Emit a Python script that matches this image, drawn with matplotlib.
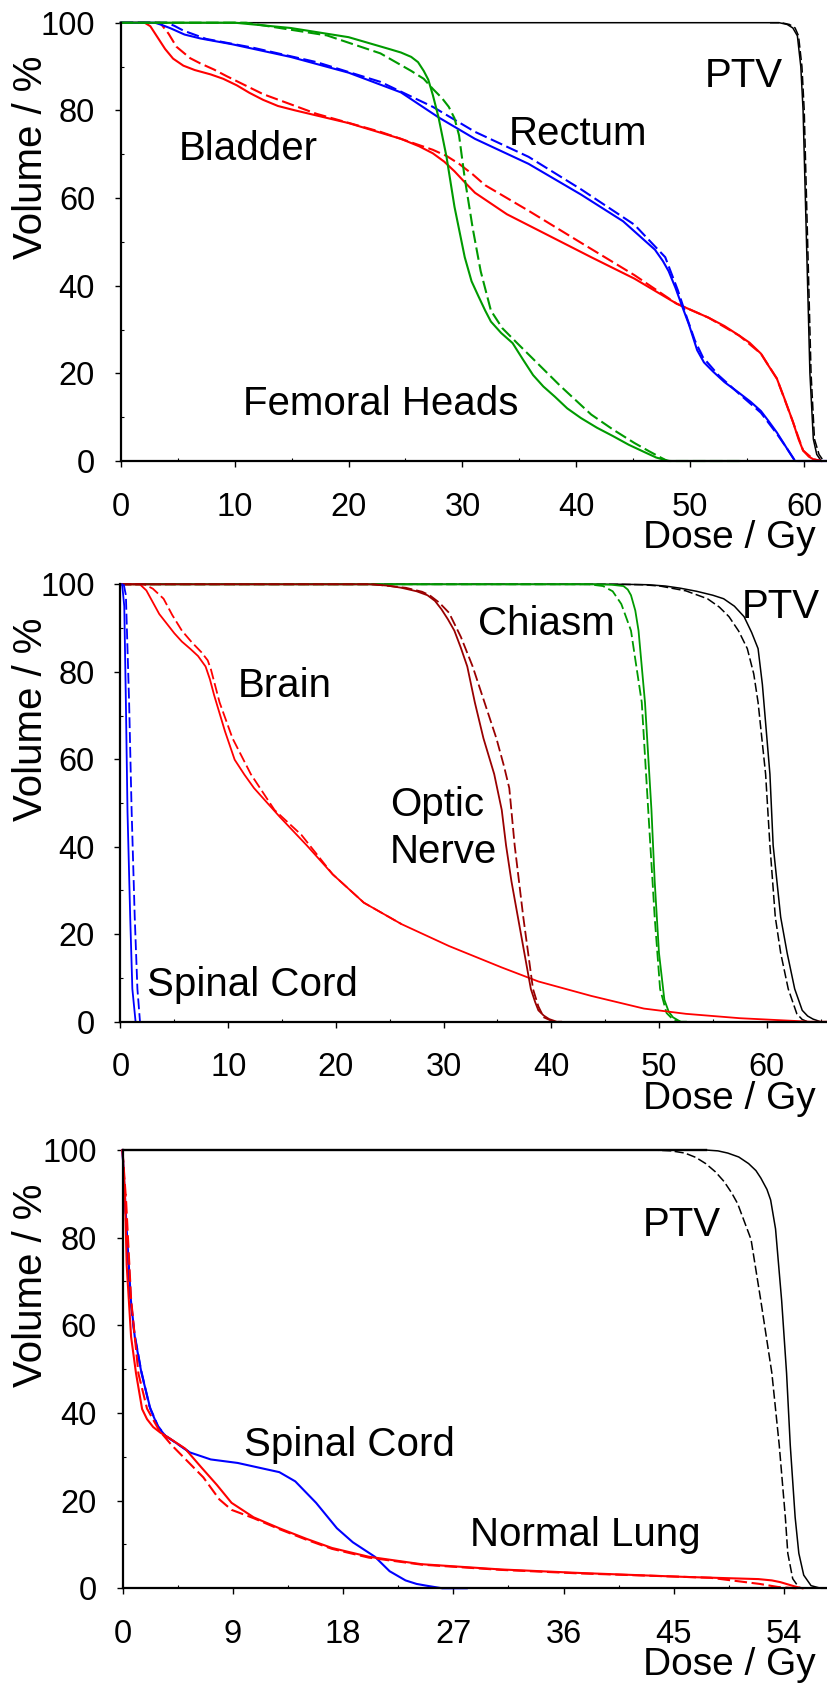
import matplotlib
matplotlib.use("Agg")
import matplotlib.pyplot as plt
from matplotlib.ticker import MultipleLocator

plt.rcParams['font.family'] = ['Liberation Sans', 'DejaVu Sans']

# ---------------- Panel 1 (prostate) ----------------
p1_ptv_d = [0, 57.8, 58.5, 59.0, 59.4, 59.7, 59.9, 60.2, 60.5, 60.8, 61.1, 61.5, 62.0]
p1_ptv_v = [100, 100, 99.6, 98.8, 97, 90, 80, 50, 20, 5, 1.5, 0, 0]
p1_ptv_dd = [57.0, 58.0, 58.7, 59.2, 59.5, 59.8, 60.0, 60.3, 60.6, 60.9, 61.3, 61.7, 62.0]
p1_ptv_dv = [100, 100, 99.6, 98.8, 97, 90, 80, 50, 20, 5, 1.5, 0, 0]

p1_rect_d = [0, 3.0, 3.6, 4.4, 5.6, 7.0, 9.75, 14.9, 20, 24.6, 27.9, 31.1, 35.8, 40.4, 44.1, 46.9,
             47.6, 48.1, 48.7, 49.2, 49.9, 50.6, 51.2, 52, 53, 54.3, 55.3, 56.2, 56.9, 57.6, 58.4,
             59.2, 62]
p1_rect_v = [100, 100, 99.5, 98.7, 97.3, 96.4, 95.1, 92.2, 88.6, 84.1, 78.4, 73.5, 67.8, 60.8, 54.7,
             48.2, 45.6, 43.3, 39.5, 35.9, 31, 25.3, 22.5, 20.4, 18, 15.5, 13.5, 11.4, 9, 6.5, 3.2,
             0, 0]
p1_rect_dd = [0, 4.0, 4.7, 5.5, 7.5, 11.6, 17.2, 22.8, 27.4, 31.1, 35.8, 40.4, 45.1, 47.8, 48.9,
              49.7, 50.4, 51.1, 52.5, 54.3, 56.2, 57.6, 58.4, 59.2, 62]
p1_rect_dv = [100, 100, 99.3, 98.2, 96.3, 94.3, 91, 86.5, 80.8, 75.1, 69.4, 62, 53.9, 46.5, 39,
              32.7, 27.5, 23.7, 19.5, 15.3, 11, 6.2, 3.2, 0, 0]

p1_blad_d = [0, 2.1, 2.6, 3.2, 3.9, 4.6, 5.5, 6.5, 7.9, 9.0, 10.2, 11.3, 12.5, 13.8, 15.3, 20, 24.6,
             26.2, 27.4, 28.4, 29.3, 30.2, 31.1, 33.9, 37.6, 41.3, 45.1, 48.8, 51.6, 53.0, 54.3, 55.2,
             56.2, 56.8, 57.6, 58.3, 59.0, 59.5, 59.9, 60.4, 60.8, 61.5]
p1_blad_v = [100, 100, 99.2, 96.8, 94.0, 91.8, 90.2, 89.2, 88.2, 87.2, 85.7, 84.0, 82.4, 81.0, 80,
             77.1, 73.5, 71.8, 70.2, 68.3, 66.1, 63.6, 61.2, 56.3, 51.4, 46.5, 41.6, 35.9, 32.7,
             30.8, 28.6, 27.0, 24.5, 22.0, 18.8, 14.0, 9.0, 5.0, 2.4, 1.0, 0.4, 0]
p1_blad_dd = [0, 3.45, 4.2, 4.9, 6.1, 7.0, 8.2, 9.3, 12.5, 17.2, 22.8, 27.4, 28.6, 29.7, 30.9, 32,
              35.8, 40.4, 45.1, 48.8, 51.6, 54.3, 56.2, 57.6, 59, 59.9, 60.8, 61.5]
p1_blad_dv = [100, 100, 97.5, 94.5, 91.9, 90.7, 89.3, 87.8, 83.7, 79.2, 75.1, 71, 69.6, 67.8, 65.4,
              62.9, 57.1, 49.8, 42.4, 35.9, 32.7, 28.6, 24.5, 18.8, 9, 2.4, 0.4, 0]

p1_fem_d = [0, 10, 14.9, 20, 23.7, 24.6, 25.5, 26.1, 26.6, 27.0, 27.4, 27.9, 28.6, 29.3, 30.2, 30.8,
            31.4, 32.0, 32.5, 33.4, 34.4, 35.3, 36.2, 37.1, 38.1, 39.2, 40.4, 41.8, 43.2, 44.6, 46,
            47.0, 47.8, 48.2, 54.3]
p1_fem_v = [100, 100, 98.8, 96.7, 93.9, 93.2, 92.2, 91.0, 89.0, 87.0, 83.5, 78.4, 69.4, 58, 46.5,
            41.0, 37.6, 34.3, 31.8, 29.2, 26.9, 23.2, 19.6, 17.0, 14.7, 12.0, 9.8, 7.6, 5.7, 3.7, 2,
            0.8, 0.2, 0, 0]
p1_fem_dd = [0, 11, 18.1, 22.8, 25.5, 26.6, 27.4, 28.2, 28.8, 29.3, 29.7, 30.2, 30.9, 31.6, 32.5,
             33.5, 34.8, 36.7, 38.6, 41.3, 43.2, 45.1, 46.4, 47.4, 48, 54.3]
p1_fem_dv = [100, 100, 97.1, 93, 89, 87.2, 84.9, 82.8, 80.8, 78.2, 74.3, 64.5, 53.1, 43.3, 34.3,
             30.3, 26.9, 22.0, 17.1, 10.6, 7.2, 4.1, 2.2, 0.8, 0, 0]

# ---------------- Panel 2 (brain) ----------------
p2_cord_d = [0.15, 0.35, 0.5, 0.65, 0.9, 1.1, 1.4]
p2_cord_v = [100, 95, 73, 48, 24, 7.5, 0]
p2_cord_dd = [0.3, 0.5, 0.8, 1.03, 1.32, 1.57, 1.81]
p2_cord_dv = [100, 97.5, 73, 48.5, 24, 7.5, 0]

p2_brain_d = [0, 1.8, 2.4, 3.0, 3.6, 4.3, 5.0, 5.7, 6.5, 7.2, 7.9, 8.3, 8.7, 9.2, 9.7, 10.6, 11.5,
              12.4, 14.8, 17.3, 19.7, 22.6, 26.1, 30.5, 35.4, 38.8, 43.7, 48.6, 52.5, 57.5, 62.4,
              64.0, 65.6]
p2_brain_v = [100, 100, 98.6, 95.9, 93.2, 91, 88.8, 86.9, 85.2, 83.6, 81.2, 78.3, 74.6, 70.5, 66.4,
              59.9, 56.5, 53.4, 46.8, 40.3, 33.7, 27.2, 22.3, 17.3, 12.4, 9.2, 5.9, 3.0, 1.8, 0.8,
              0.2, 0, 0]
p2_brain_dd = [0, 2.2, 3.0, 4.0, 4.8, 5.7, 6.6, 7.5, 8.1, 8.4, 9.2, 10.4, 12.1, 14.3, 16.8, 19.7,
               22.6, 26.1]
p2_brain_dv = [100, 100, 99, 96.7, 93, 89.4, 86.8, 84.5, 82.6, 80.5, 73, 64.8, 56.6, 48.4, 42.7,
               33.7, 27.2, 22.3]

p2_optic_d = [0, 23.1, 24.8, 26.1, 27.5, 28.5, 29.2, 29.8, 30.4, 31, 31.6, 32.2, 32.9, 33.7, 34.7,
              35.4, 35.8, 36.3, 36.9, 37.5, 38.1, 38.5, 38.8, 39.3, 39.8, 40.5]
p2_optic_v = [100, 100, 99.7, 99.2, 98.4, 97.5, 96.2, 94.3, 92.0, 89.4, 85.5, 81.2, 73, 64.8, 56.6,
              48.4, 40.3, 32.1, 23.9, 15.7, 7.5, 4.5, 2.6, 1.4, 0.6, 0]
p2_optic_dd = [0, 23.5, 26.5, 28.0, 28.7, 29.6, 30.5, 31.6, 32.7, 34.9, 35.6, 36.1, 36.6, 37.4,
               38.3, 38.8, 39.3, 40.2, 41.0]
p2_optic_dv = [100, 100, 99.2, 98.3, 97.5, 95.8, 93.5, 88.0, 81.2, 64.8, 58.5, 53.4, 40.3, 23.9,
               7.5, 3.5, 1.0, 0, 0]

p2_chiasm_d = [0, 44.2, 45.6, 46.7, 47.1, 47.4, 47.8, 48.1, 48.7, 49.3, 49.6, 50.0, 50.5, 50.9,
               51.3, 52.0, 52.5]
p2_chiasm_v = [100, 100, 99.9, 99.6, 98.8, 97.5, 94.0, 89.4, 73, 48.4, 32.1, 15.7, 5, 2.3, 1, 0, 0]
p2_chiasm_dd = [0, 43.5, 44.8, 45.7, 46.5, 47.4, 48.4, 49.0, 49.6, 50.1, 50.7, 51.3, 52.0]
p2_chiasm_dv = [100, 100, 99.6, 98.4, 95.5, 89.4, 73, 48.4, 23.9, 7.5, 2, 0.5, 0]

p2_ptv_d = [0, 46.7, 49.0, 50.6, 52.0, 53.5, 55.0, 56.0, 57.0, 57.9, 58.6, 59.2, 59.6, 60.3, 60.6,
            61.3, 61.9, 62.6, 63.3, 63.8, 64.3, 65.0, 65.6]
p2_ptv_v = [100, 100, 99.9, 99.6, 99.1, 98.4, 97.5, 96.7, 95.0, 92.6, 89.0, 85.3, 77.1, 56.6, 40.3,
            23.9, 15.7, 7.5, 2.6, 1.3, 0.6, 0, 0]
p2_ptv_dd = [0, 46.0, 48.5, 50.1, 52.5, 54.5, 55.6, 56.5, 57.4, 58.2, 58.8, 59.2, 59.9, 60.3, 60.8,
             61.3, 62.0, 62.8, 63.3, 63.8]
p2_ptv_dv = [100, 100, 99.9, 99.6, 98.5, 96.7, 94.8, 92.6, 89.3, 85.3, 79.5, 73, 56.6, 40.3, 23.9,
             15.7, 7.5, 1.8, 0.5, 0]

# ---------------- Panel 3 (lung) ----------------
p3_ptv_d = [0, 47.6, 48.6, 49.4, 50.3, 51.1, 51.7, 52.1, 52.6, 52.9, 53.3, 53.8, 54.2, 54.5, 54.9,
            55.2, 55.6, 56.2, 57.0, 57.5]
p3_ptv_v = [100, 100, 99.8, 99.3, 98.4, 96.9, 95.3, 93.6, 91.0, 88.6, 82, 65.6, 49.1, 32.7, 16.2,
            8, 3, 0.6, 0, 0]
p3_ptv_dd = [42.0, 43.3, 44.8, 45.9, 46.8, 47.6, 48.4, 49.1, 49.7, 50.2, 51.3, 52.1, 53.0, 53.6,
             54.1, 54.3, 54.7, 55.2, 55.6]
p3_ptv_dv = [100, 100, 99.8, 99.3, 98.3, 96.9, 95.0, 92.8, 90.3, 87.8, 79.6, 65.6, 49.1, 32.7,
             16.2, 8, 2.2, 0.2, 0]
p3_top_d = [0, 47.6]
p3_top_v = [100, 100]

p3_cord_d = [0, 0.34, 0.69, 1.0, 1.55, 2.28, 2.9, 3.5, 4.2, 5.5, 7.2, 9.4, 11.5, 12.8, 14.1, 15.8,
             17.5, 18.8, 20.6, 21.8, 23.1, 24.0, 24.8, 26.1, 28.1]
p3_cord_v = [100, 82, 65.6, 57.4, 49.1, 40.9, 36.8, 34.8, 33.5, 31, 29.4, 28.6, 27.3, 26.5, 24.4,
             19.5, 13.7, 10.5, 7.2, 3.9, 1.8, 1.0, 0.6, 0, 0]
p3_cord_dd = [0, 0.3, 0.6, 0.95, 1.5, 2.2, 2.9, 3.5, 4.2, 5.5]
p3_cord_dv = [100, 83, 67, 58.5, 50, 41.5, 37, 34.8, 33.5, 31]

p3_lung_d = [0, 0.2, 0.34, 0.7, 1.1, 1.6, 2.0, 2.5, 3.1, 3.8, 5.1, 6.4, 7.7, 8.9, 10.7, 12.8, 15.0,
             17.1, 20.1, 24.4, 30.9, 37.3, 45.9, 51.9, 53.0, 53.7, 54.3, 54.9, 55.5]
p3_lung_v = [100, 90, 73.8, 57.4, 49.1, 40.9, 38.6, 36.8, 35.5, 34.3, 31.9, 27.7, 23.6, 19.5, 16.2,
             13.7, 11.3, 9.2, 7.2, 5.5, 4.3, 3.5, 2.6, 2.1, 1.8, 1.4, 0.9, 0.4, 0]
p3_lung_dd = [0, 0.3, 0.7, 1.3, 2.0, 3.0, 4.0, 6.6, 7.9, 8.9, 10.7, 12.8, 15.0, 17.1, 20.1, 24.4,
              30.9, 37.3, 45.9, 48.0, 52.0, 53.5, 55.0]
p3_lung_dv = [100, 88, 66, 49, 41, 36, 32.7, 25.3, 20.3, 17.9, 16.0, 13.5, 11.1, 9.0, 7.0, 5.4,
              4.2, 3.4, 2.6, 2.4, 1.0, 0.3, 0]

RED = '#ff0000'
BLUE = '#0000ff'
GREEN = '#009a00'
DRED = '#990000'
BLACK = '#000000'

TICK_FS = 23.5
LAB_FS = 28
ANN_FS = 29
LW = 1.5
LW_THIN = 1.1
DASH = (6, 2.2)

W, H = 827, 1686
fig = plt.figure(figsize=(W / 100, H / 100), dpi=100)


def make_axes(left_px, top_px, bottom_px, xmax, xmajor):
    ax = fig.add_axes([left_px / W, 1 - bottom_px / H, 1 - left_px / W, (bottom_px - top_px) / H])
    ax.set_xlim(0, xmax)
    ax.set_ylim(0, 100)
    for s in ('top', 'right'):
        ax.spines[s].set_visible(False)
    for s in ('left', 'bottom'):
        ax.spines[s].set_linewidth(1.6)
        ax.spines[s].set_clip_on(False)
    ax.xaxis.set_major_locator(MultipleLocator(xmajor))
    ax.xaxis.set_minor_locator(MultipleLocator(xmajor / 2))
    ax.yaxis.set_major_locator(MultipleLocator(20))
    ax.yaxis.set_minor_locator(MultipleLocator(10))
    ax.tick_params(which='major', direction='out', length=4.5, width=1.0, labelsize=TICK_FS)
    ax.tick_params(which='minor', direction='in', length=2.3, width=0.8)
    ax.tick_params(axis='x', which='major', pad=17.5)
    ax.tick_params(axis='y', which='major', pad=14)
    ax.patch.set_alpha(0)
    fig.text(42 / W, 1 - (top_px + 135) / H, 'Volume / %', rotation=90, rotation_mode='anchor',
             ha='center', va='baseline', fontsize=LAB_FS + 1)
    fig.text(816 / W, 1 - (bottom_px + 87) / H, 'Dose / Gy', ha='right', va='baseline',
             fontsize=LAB_FS)
    return ax


def curve(ax, d, v, color, dashed=False, lw=LW):
    if dashed:
        ax.plot(d, v, color=color, lw=lw, dashes=DASH, clip_on=False)
    else:
        ax.plot(d, v, color=color, lw=lw, clip_on=False)


# Panel 1
ax1 = make_axes(120.7, 22.7, 461.0, 62.0, 10)
curve(ax1, p1_ptv_dd, p1_ptv_dv, BLACK, True, LW_THIN)
curve(ax1, p1_ptv_d, p1_ptv_v, BLACK, False, LW_THIN)
curve(ax1, p1_blad_dd, p1_blad_dv, RED, True)
curve(ax1, p1_blad_d, p1_blad_v, RED)
curve(ax1, p1_rect_dd, p1_rect_dv, BLUE, True)
curve(ax1, p1_rect_d, p1_rect_v, BLUE)
curve(ax1, p1_fem_dd, p1_fem_dv, GREEN, True)
curve(ax1, p1_fem_d, p1_fem_v, GREEN)
ax1.text(51.3, 85.3, 'PTV', fontsize=ANN_FS, va='baseline')
ax1.text(34.1, 72.2, 'Rectum', fontsize=ANN_FS, va='baseline')
ax1.text(5.1, 68.6, 'Bladder', fontsize=ANN_FS, va='baseline')
ax1.text(10.7, 10.6, 'Femoral Heads', fontsize=ANN_FS, va='baseline')

# Panel 2
ax2 = make_axes(120.5, 584.3, 1021.7, 65.6, 10)
curve(ax2, p2_ptv_dd, p2_ptv_dv, BLACK, True, LW_THIN)
curve(ax2, p2_ptv_d, p2_ptv_v, BLACK, False, LW_THIN)
curve(ax2, p2_chiasm_dd, p2_chiasm_dv, GREEN, True, 1.3)
curve(ax2, p2_chiasm_d, p2_chiasm_v, GREEN, False, 1.3)
curve(ax2, p2_brain_dd, p2_brain_dv, RED, True, 1.3)
curve(ax2, p2_brain_d, p2_brain_v, RED, False, 1.3)
curve(ax2, p2_optic_dd, p2_optic_dv, DRED, True, 1.3)
curve(ax2, p2_optic_d, p2_optic_v, DRED, False, 1.3)
curve(ax2, p2_cord_dd, p2_cord_dv, BLUE, True, 1.3)
curve(ax2, p2_cord_d, p2_cord_v, BLUE, False, 1.3)
ax2.text(57.7, 92.2, 'PTV', fontsize=ANN_FS, va='baseline')
ax2.text(33.2, 88.5, 'Chiasm', fontsize=ANN_FS, va='baseline')
ax2.text(10.9, 74.2, 'Brain', fontsize=ANN_FS, va='baseline')
ax2.text(25.0, 47.0, 'Optic', fontsize=ANN_FS, va='baseline')
ax2.text(25.0, 36.2, 'Nerve', fontsize=ANN_FS, va='baseline')
ax2.text(2.5, 5.9, 'Spinal Cord', fontsize=ANN_FS, va='baseline')

# Panel 3
ax3 = make_axes(122.5, 1150.0, 1588.3, 57.5, 9)
curve(ax3, p3_ptv_dd, p3_ptv_dv, BLACK, True, LW_THIN)
curve(ax3, p3_ptv_d, p3_ptv_v, BLACK, False, LW_THIN)
curve(ax3, p3_top_d, p3_top_v, BLACK, False, 1.7)
curve(ax3, p3_cord_dd, p3_cord_dv, BLUE, True)
curve(ax3, p3_cord_d, p3_cord_v, BLUE)
curve(ax3, p3_lung_dd, p3_lung_dv, RED, True)
curve(ax3, p3_lung_d, p3_lung_v, RED)
ax3.text(42.5, 80.4, 'PTV', fontsize=ANN_FS, va='baseline')
ax3.text(9.9, 30.2, 'Spinal Cord', fontsize=ANN_FS, va='baseline')
ax3.text(28.4, 9.6, 'Normal Lung', fontsize=ANN_FS, va='baseline')

fig.savefig('out.png', dpi=100)
